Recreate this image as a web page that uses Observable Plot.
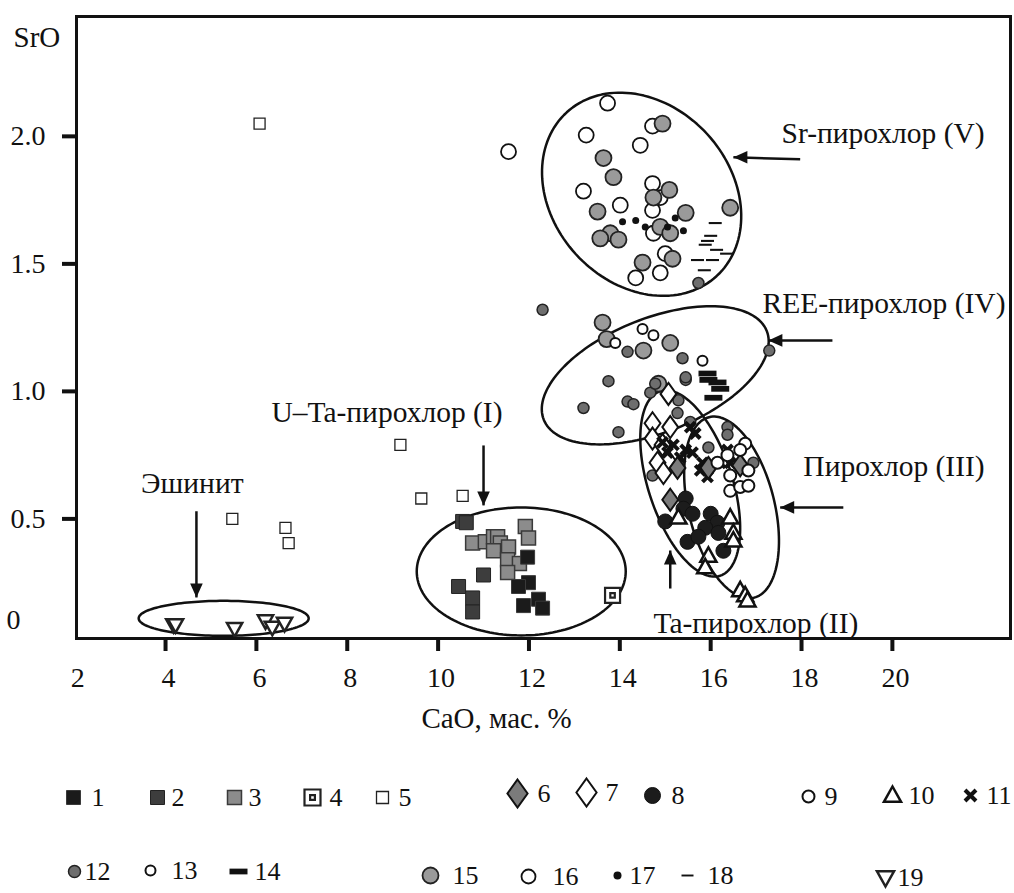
<!DOCTYPE html>
<html><head><meta charset="utf-8">
<script src="https://cdn.jsdelivr.net/npm/d3@7"></script>
<script src="https://cdn.jsdelivr.net/npm/@observablehq/plot@0.6"></script>
<style>body{margin:0;background:#fff;} #chart{width:1014px;}</style>
</head><body><div id="chart"></div>
<script>
// ---------- DATA (CaO, SrO in wt.%) ----------
const series1 = [[11.97,0.35],[11.99,0.25],[11.77,0.235],[11.88,0.16],[12.21,0.185],[12.30,0.15]];
const series2 = [[10.54,0.49],[10.62,0.485],[11.0,0.28],[10.45,0.235],[10.76,0.19],[10.76,0.135]];
const series3 = [[10.76,0.405],[11.04,0.41],[11.22,0.43],[11.31,0.43],[11.37,0.405],[11.22,0.375],[11.55,0.39],[11.53,0.34],[11.79,0.325],[11.53,0.29],[11.92,0.47],[11.99,0.425]];
const series4 = [[13.84,0.20]];
const series5 = [[6.07,2.05],[5.47,0.50],[6.64,0.465],[6.71,0.405],[9.17,0.79],[9.63,0.58],[10.54,0.59]];
const series6 = [[15.27,0.70],[15.95,0.70],[16.65,0.71],[15.11,0.575]];
const series7 = [[15.07,0.99],[14.72,0.875],[15.11,0.86],[14.72,0.815],[14.94,0.79],[15.05,0.73],[14.83,0.72],[14.96,0.68]];
const series8 = [[15.45,0.58],[15.40,0.54],[15.60,0.52],[15.0,0.49],[16.0,0.52],[16.15,0.485],[15.88,0.465],[16.17,0.445],[15.49,0.41],[16.28,0.375],[15.73,0.43]];
const series9 = [[16.76,0.795],[16.65,0.77],[16.37,0.75],[16.15,0.72],[16.43,0.67],[16.83,0.69],[16.43,0.61],[16.65,0.625],[16.83,0.63]];
const series10 = [[15.29,0.505],[16.43,0.505],[16.50,0.445],[16.50,0.415],[15.95,0.355],[15.88,0.31],[16.65,0.22],[16.76,0.20],[16.81,0.18]];
const series11 = [[14.94,0.80],[15.18,0.79],[15.45,0.77],[15.55,0.86],[15.66,0.835],[15.60,0.76],[15.82,0.72],[15.77,0.69],[15.93,0.665],[16.21,0.72],[16.37,0.77],[16.43,0.72],[15.05,0.76],[15.33,0.74]];
const series12 = [[15.73,1.425],[12.30,1.32],[14.17,1.155],[15.38,1.13],[13.75,1.04],[13.20,0.935],[14.17,0.96],[14.30,0.95],[13.97,0.84],[15.45,1.045],[14.67,0.995],[15.29,0.965],[17.29,1.16],[14.78,1.03],[15.45,1.055],[15.27,0.915],[15.55,0.88],[16.37,0.86],[16.37,0.83],[15.95,0.78],[16.94,0.72],[14.72,0.67]];
const series13 = [[13.90,1.19],[14.50,1.245],[14.74,1.22],[15.82,1.12]];
const series14 = [[15.93,1.07],[15.95,1.045],[16.15,1.035],[16.21,1.01],[16.06,0.975]];
const series15 = [[14.94,2.05],[13.64,1.915],[13.86,1.84],[15.09,1.79],[14.74,1.76],[13.51,1.705],[15.45,1.70],[16.43,1.72],[13.79,1.62],[13.57,1.60],[13.97,1.595],[14.89,1.645],[15.11,1.62],[14.50,1.505],[15.16,1.52],[13.62,1.27],[13.71,1.205],[14.52,1.16],[15.11,1.19],[14.85,1.03]];
const series16 = [[13.73,2.13],[14.72,2.04],[13.26,2.005],[14.45,1.965],[11.55,1.94],[13.20,1.785],[14.72,1.815],[14.89,1.76],[14.01,1.73],[14.72,1.71],[14.74,1.62],[15.0,1.54],[14.89,1.465],[14.35,1.445]];
const series17 = [[14.06,1.665],[14.35,1.67],[14.56,1.645],[15.22,1.68],[15.05,1.645],[15.40,1.63]];
const series18 = [[16.10,1.66],[16.0,1.61],[15.93,1.59],[15.88,1.575],[16.13,1.555],[16.35,1.54],[15.71,1.515],[16.04,1.515],[15.86,1.475]];
const series19 = [[4.18,0.085],[4.22,0.085],[5.52,0.07],[6.20,0.10],[6.35,0.075],[6.62,0.09]];

const seriesNames = ["1","2","3","4","5","6","7","8","9","10","11","12","13","14","15","16","17","18","19"];
const xTickMarks = [4,6,8,10,12,14,16,18,20];
const xTickLabels = [2,4,6,8,10,12,14,16,18,20];
const yTicks = [0.5,1.0,1.5,2.0];
const yZeroLabel = ["0"];
const yAxisTitle = ["SrO"];
const xAxisTitle = ["CaO, мас. %"];

// field annotations
const annotationText = ["Sr-пирохлор (V)","REE-пирохлор (IV)","U–Ta-пирохлор (I)","Эшинит","Пирохлор (III)","Ta-пирохлор (II)"];
const annotationX = [17.56, 17.14, 6.33, 4.59, 18.04, 14.74];
const annotationY = [2.012, 1.345, 0.918, 0.639, 0.706, 0.090];
const arrowFromX = [17.97, 18.68, 11.0, 4.68, 18.92, 15.11];
const arrowFromY = [1.91, 1.20, 0.788, 0.53, 0.545, 0.227];
const arrowToX   = [16.50, 17.27, 11.0, 4.68, 17.53, 15.11];
const arrowToY   = [1.918, 1.20, 0.553, 0.192, 0.545, 0.376];
const arrowDir   = ["left","left","down","down","left","up"];

// field outlines: centre (data), semi-axes (px) and tilt (deg)
const ellipseCX = [5.28, 11.83, 14.48, 14.78, 15.55, 16.46];
const ellipseCY = [0.110, 0.294, 1.773, 1.063, 0.639, 0.545];
const ellipseA  = [85, 104.5, 111, 120, 97, 93];
const ellipseB  = [17.5, 64, 89, 57, 42, 43];
const ellipseAngle = [0, 0, 47.6, -21.7, 72, 76];

// ---------- LAYOUT ----------
const W = 1014, H = 745;
const M = {top: 16, right: 4, bottom: 107, left: 76};
const xDomain = [2.04, 22.6], yDomain = [0.031, 2.47];
const KX = (W - M.left - M.right) / (xDomain[1] - xDomain[0]);
const KY = (H - M.top - M.bottom) / (yDomain[1] - yDomain[0]);
const FONT = "'Liberation Serif','Times New Roman',serif";

// ---------- SYMBOLS ----------
const R = s => Math.sqrt(s / Math.PI);
const sym = {
  square: {draw(c, s) { const r = R(s); c.rect(-r, -r, 2*r, 2*r); }},
  dblsquare: {draw(c, s) { const r = R(s), q = 0.3*r; c.rect(-r, -r, 2*r, 2*r); c.rect(-q, -q, 2*q, 2*q); }},
  rhombus: {draw(c, s) { const r = R(s), w = 0.72*r; c.moveTo(0, -r); c.lineTo(w, 0); c.lineTo(0, r); c.lineTo(-w, 0); c.closePath(); }},
  triUp: {draw(c, s) { const r = R(s); c.moveTo(0, -r); c.lineTo(0.95*r, 0.7*r); c.lineTo(-0.95*r, 0.7*r); c.closePath(); }},
  triDown: {draw(c, s) { const r = R(s); c.moveTo(0, r); c.lineTo(0.95*r, -0.7*r); c.lineTo(-0.95*r, -0.7*r); c.closePath(); }},
  times: {draw(c, s) { const r = R(s); c.moveTo(-r, -r); c.lineTo(r, r); c.moveTo(r, -r); c.lineTo(-r, r); }},
  dashBold: {draw(c, s) { const r = R(s); c.rect(-r, -0.32*r, 2*r, 0.64*r); }},
  dashThin: {draw(c, s) { const r = R(s); c.rect(-r, -0.16*r, 2*r, 0.32*r); }},
  headLeft: {draw(c, s) { const r = R(s); c.moveTo(0, 0); c.lineTo(2*r, -0.9*r); c.lineTo(2*r, 0.9*r); c.closePath(); }},
  headDown: {draw(c, s) { const r = R(s); c.moveTo(0, 0); c.lineTo(-0.9*r, -2*r); c.lineTo(0.9*r, -2*r); c.closePath(); }},
  headUp: {draw(c, s) { const r = R(s); c.moveTo(0, 0); c.lineTo(-0.9*r, 2*r); c.lineTo(0.9*r, 2*r); c.closePath(); }}
};

const styles = {
  "1":  {symbol: sym.square, r: 7, fill: "#1b1b1b", stroke: "#3a3a3a", sw: 1, lr: 7},
  "2":  {symbol: sym.square, r: 7, fill: "#3d3d3d", stroke: "#222", sw: 1, lr: 7},
  "3":  {symbol: sym.square, r: 7, fill: "#8c8c8c", stroke: "#3a3a3a", sw: 1.5, lr: 7},
  "4":  {symbol: sym.dblsquare, r: 7.5, fill: "white", stroke: "#222", sw: 2.2, lr: 8},
  "5":  {symbol: sym.square, r: 5.5, fill: "white", stroke: "#222", sw: 1.3, lr: 6},
  "6":  {symbol: sym.rhombus, r: 11, fill: "#7b7b7b", stroke: "#111", sw: 2, lr: 14},
  "7":  {symbol: sym.rhombus, r: 11, fill: "white", stroke: "#111", sw: 2, lr: 14},
  "8":  {symbol: "circle", r: 7.5, fill: "#1c1c1c", stroke: "#111", sw: 1, lr: 8},
  "9":  {symbol: "circle", r: 6, fill: "white", stroke: "#111", sw: 2, lr: 6},
  "10": {symbol: sym.triUp, r: 8.5, fill: "white", stroke: "#111", sw: 2.5, lr: 9},
  "11": {symbol: sym.times, r: 5, fill: "none", stroke: "#111", sw: 4, lr: 5.5},
  "12": {symbol: "circle", r: 5.5, fill: "#6e6e6e", stroke: "#222", sw: 1.5, lr: 6},
  "13": {symbol: "circle", r: 5, fill: "white", stroke: "#111", sw: 2, lr: 5},
  "14": {symbol: sym.dashBold, r: 9, fill: "#111", stroke: "none", sw: 0, lr: 9},
  "15": {symbol: "circle", r: 8, fill: "#9a9a9a", stroke: "#222", sw: 1.8, lr: 8},
  "16": {symbol: "circle", r: 7.5, fill: "white", stroke: "#111", sw: 1.8, lr: 7},
  "17": {symbol: "circle", r: 3.5, fill: "#111", stroke: "none", sw: 0, lr: 4},
  "18": {symbol: sym.dashThin, r: 6.5, fill: "#111", stroke: "none", sw: 0, lr: 6},
  "19": {symbol: sym.triDown, r: 8, fill: "white", stroke: "#222", sw: 2.5, lr: 9}
};
const seriesData = {"1":series1,"2":series2,"3":series3,"4":series4,"5":series5,"6":series6,"7":series7,"8":series8,"9":series9,"10":series10,"11":series11,"12":series12,"13":series13,"14":series14,"15":series15,"16":series16,"17":series17,"18":series18,"19":series19};
const drawOrder = ["5","4","2","3","1","19","16","15","17","18","13","12","14","7","11","6","9","8","10"];

// ---------- DERIVED TABLES ----------
const ellipsePts = [];
ellipseCX.forEach((cx, i) => {
  const a = ellipseA[i], b = ellipseB[i], th = ellipseAngle[i] * Math.PI / 180;
  for (let k = 0; k <= 144; k++) {
    const t = 2 * Math.PI * k / 144;
    const dx = a*Math.cos(t)*Math.cos(th) - b*Math.sin(t)*Math.sin(th);
    const dy = a*Math.cos(t)*Math.sin(th) + b*Math.sin(t)*Math.cos(th);
    ellipsePts.push({id: i, x: cx + dx / KX, y: ellipseCY[i] - dy / KY});
  }
});
const annotations = annotationText.map((t, i) => ({text: t, x: annotationX[i], y: annotationY[i], centred: t === "Эшинит"}));
const arrows = arrowDir.map((d, i) => ({x1: arrowFromX[i], y1: arrowFromY[i], x2: arrowToX[i], y2: arrowToY[i], dir: d}));

const pointMarks = drawOrder.map(id => {
  const st = styles[id];
  return Plot.dot(seriesData[id], {x: d => d[0], y: d => d[1], symbol: st.symbol, r: st.r, fill: st.fill, stroke: st.stroke, strokeWidth: st.sw});
});

const chart = Plot.plot({
  width: W, height: H,
  marginTop: M.top, marginRight: M.right, marginBottom: M.bottom, marginLeft: M.left,
  x: {domain: xDomain, label: null},
  y: {domain: yDomain, label: null},
  style: {fontFamily: FONT, fontSize: "28px", color: "#111", background: "white", overflow: "visible"},
  marks: [
    Plot.line(ellipsePts, {x: "x", y: "y", z: "id", stroke: "#111", strokeWidth: 2.5}),
    ...pointMarks,
    Plot.link(arrows, {x1: "x1", y1: "y1", x2: "x2", y2: "y2", stroke: "#111", strokeWidth: 2.5}),
    Plot.dot(arrows, {filter: d => d.dir === "left", x: "x2", y: "y2", symbol: sym.headLeft, r: 7, fill: "#111", stroke: "none"}),
    Plot.dot(arrows, {filter: d => d.dir === "down", x: "x2", y: "y2", symbol: sym.headDown, r: 7, fill: "#111", stroke: "none"}),
    Plot.dot(arrows, {filter: d => d.dir === "up", x: "x2", y: "y2", symbol: sym.headUp, r: 7, fill: "#111", stroke: "none"}),
    Plot.text(annotations, {filter: d => !d.centred, x: "x", y: "y", text: "text", textAnchor: "start", fontSize: 29.5}),
    Plot.text(annotations, {filter: d => d.centred, x: "x", y: "y", text: "text", textAnchor: "middle", fontSize: 29.5}),
    Plot.frame({stroke: "#111", strokeWidth: 3}),
    Plot.axisX({ticks: xTickMarks, tickSize: 13, strokeWidth: 4, tickFormat: () => "", label: null}),
    Plot.axisX({ticks: xTickLabels, tickSize: 0, tickPadding: 29, dx: 3, tickFormat: d => String(d), fontSize: 28, label: null}),
    Plot.axisY({ticks: yTicks, tickSize: 14, strokeWidth: 4, tickFormat: () => "", label: null}),
    Plot.axisY({ticks: yTicks, tickSize: 0, tickPadding: 31, tickFormat: d => d.toFixed(1), fontSize: 28, label: null}),
    Plot.text(yZeroLabel, {frameAnchor: "bottom-left", dx: -70, dy: -10, textAnchor: "start", fontSize: 28}),
    Plot.text(yAxisTitle, {frameAnchor: "top-left", dx: -63, dy: 10, textAnchor: "start", fontSize: 29}),
    Plot.text(xAxisTitle, {frameAnchor: "bottom", dx: -47, dy: 89, fontSize: 29})
  ]
});

// ---------- LEGEND (below the chart) ----------
const legendSymX = [73,157,234,312,382,517,586,652,808,892,970,74,150,238,430,528,617,687,885];
const legendSymY = [52,52,52,52,52,48,47,50,51,50,50,126,125,126,130,131,130,130,132];
const legendTextX = [91,171,248,329,398,537,605,671,824,908,986,84,171,254,452,552,629,707,897];
const legendItems = seriesNames.map((n, i) => ({id: n, sx: legendSymX[i], sy: legendSymY[i], tx: legendTextX[i]}));

const legend = Plot.plot({
  width: W, height: 893 - H,
  margin: 0,
  x: {type: "identity", axis: null},
  y: {type: "identity", axis: null},
  style: {fontFamily: FONT, fontSize: "26px", color: "#111", background: "white", overflow: "visible"},
  marks: [
    ...seriesNames.map(n => {
      const st = styles[n];
      return Plot.dot(legendItems, {filter: d => d.id === n, x: "sx", y: "sy", symbol: st.symbol, r: st.lr, fill: st.fill, stroke: st.stroke, strokeWidth: st.sw});
    }),
    Plot.text(legendItems, {x: "tx", y: "sy", text: "id", textAnchor: "start", fontSize: 26})
  ]
});

const root = document.getElementById("chart");
root.appendChild(chart);
root.appendChild(legend);
</script></body></html>
